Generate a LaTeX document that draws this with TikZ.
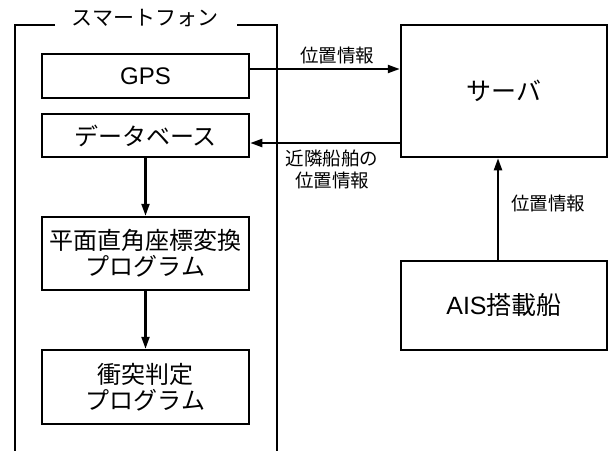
\documentclass[tikz,border=0pt]{standalone}
\usepackage{fontspec}
\setmainfont{Liberation Sans}
\newfontfamily\jp{Noto Sans CJK JP}
\usetikzlibrary{arrows.meta}
\tikzset{
  box/.style={draw, line width=2.5pt, rectangle, inner sep=0pt, align=center, font=\jp\fontsize{24}{26}\selectfont},
  arr/.style={line width=2.2pt, -{Triangle[length=12pt,width=8pt]}},
  lbl/.style={inner sep=0pt, align=center, font=\jp\fontsize{18.5}{22}\selectfont},
  frm/.style={line width=2.5pt},
}
\begin{document}
\begin{tikzpicture}[x=1pt,y=-1pt]
\useasboundingbox (0,0) rectangle (609,450);
% frame
\node[inner sep=0pt, font=\jp\fontsize{21}{24}\selectfont] (title) at (145,18) {スマートフォン};
\draw[frm] (55,25) -- (15,25) -- (15,455);
\draw[frm] (237,25) -- (277,25) -- (277,455);
% boxes
\node[box, minimum width=207pt, minimum height=44pt] (gps) at (145.5,76) {\normalfont\fontsize{24}{26}\selectfont GPS};
\node[box, minimum width=207pt, minimum height=43pt] (db) at (145.5,135.5) {データベース};
\node[box, minimum width=207pt, minimum height=73pt] (conv) at (145.5,253.5) {平面直角座標変換\\プログラム};
\node[box, minimum width=207pt, minimum height=74pt] (coll) at (145.5,387) {衝突判定\\プログラム};
\node[box, minimum width=206pt, minimum height=132pt, font=\jp\fontsize{25}{27}\selectfont] (srv) at (504,91) {サーバ};
\node[box, minimum width=206pt, minimum height=89pt, font=\jp\fontsize{25}{27}\selectfont] (ais) at (504,305.5) {{\normalfont\fontsize{25}{27}\selectfont AIS}搭載船};
% connectors
\draw[arr] ([yshift=7pt]gps.east) -- ([yshift=7pt]gps.east -| srv.west);
\draw[arr] ([yshift=-7.5pt]db.east -| srv.west) -- ([yshift=-7.5pt]db.east);
\draw[arr] (db.south) -- (conv.north);
\draw[arr] (conv.south) -- (coll.north);
\draw[arr] ([xshift=-6pt]ais.north) -- ([xshift=-6pt]ais.north |- srv.south);
% labels
\node[lbl] (l1) at (337,55) {位置情報};
\node[lbl] (l2) at (332,169) {近隣船舶の\\位置情報};
\node[lbl] (l3) at (548,203) {位置情報};
\end{tikzpicture}
\end{document}
